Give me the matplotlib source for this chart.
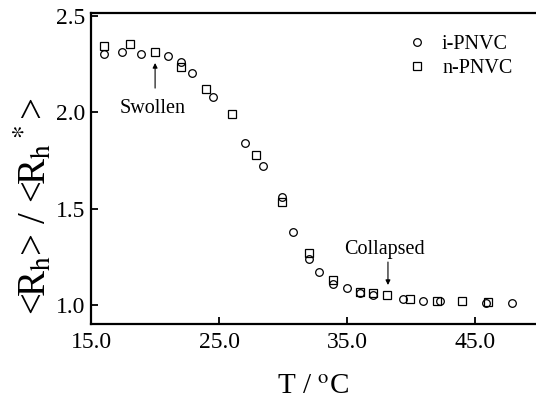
import matplotlib
matplotlib.use('Agg')
import matplotlib.pyplot as plt

plt.rcParams['font.family'] = ['Liberation Serif', 'DejaVu Serif']
plt.rcParams['mathtext.fontset'] = 'stix'

# i-PNVC (circles)
t_i = [16.0, 17.4, 18.9, 21.0, 22.0, 22.9, 24.5, 27.0, 28.4, 29.9, 30.8,
       32.0, 32.8, 33.9, 35.0, 36.0, 37.0, 39.4, 40.9, 42.3, 45.9, 47.9]
r_i = [2.30, 2.31, 2.30, 2.29, 2.26, 2.20, 2.08, 1.84, 1.72, 1.56, 1.38,
       1.24, 1.17, 1.11, 1.09, 1.06, 1.05, 1.03, 1.02, 1.02, 1.01, 1.01]

# n-PNVC (squares)
t_n = [16.0, 18.0, 20.0, 22.0, 24.0, 26.0, 27.9, 29.9, 32.0, 33.9, 36.0,
       37.0, 38.1, 39.9, 42.0, 44.0, 46.0]
r_n = [2.34, 2.35, 2.31, 2.235, 2.12, 1.99, 1.78, 1.535, 1.27, 1.13, 1.07,
       1.06, 1.05, 1.03, 1.02, 1.02, 1.015]

xticks = [15.0, 25.0, 35.0, 45.0]
yticks = [1.0, 1.5, 2.0, 2.5]

fig = plt.figure(figsize=(5.36, 4.0), dpi=100)
ax = fig.add_axes([0.170, 0.19, 0.830, 0.7775])

ax.plot(t_i, r_i, 'o', ms=5.5, mfc='none', mec='black', mew=0.9, label='i-PNVC')
ax.plot(t_n, r_n, 's', ms=5.3, mfc='none', mec='black', mew=0.9, label='n-PNVC')

ax.set_xlim(15.0, 49.77)
ax.set_ylim(0.902, 2.513)
ax.set_xticks(xticks)
ax.set_xticklabels(['%.1f' % v for v in xticks])
ax.set_yticks(yticks)
ax.set_yticklabels(['%.1f' % v for v in yticks])
ax.tick_params(direction='in', length=5, width=1.3, labelsize=17, pad=6)
ax.tick_params(axis='y', pad=4)

for s in ['left', 'bottom', 'top']:
    ax.spines[s].set_linewidth(1.6)
ax.spines['right'].set_visible(False)

ax.set_xlabel(r'T / $^\mathrm{o}$C', fontsize=21, labelpad=15)
ax.set_ylabel(r'<R$_\mathrm{h}$> / <R$_\mathrm{h}$$^*$>', fontsize=28)
ax.yaxis.set_label_coords(-0.082, 0.38)

ax.legend(loc='upper right', bbox_to_anchor=(0.965, 0.955), frameon=False,
          fontsize=14.5, handlelength=1.0, handletextpad=0.75,
          labelspacing=0.25, borderaxespad=0)

arrow = dict(arrowstyle='-|>', color='black', lw=0.8,
             mutation_scale=7, shrinkA=0, shrinkB=0)
ax.annotate('', xy=(20.0, 2.254), xytext=(20.0, 2.124), arrowprops=arrow)
ax.text(19.77, 2.02, 'Swollen', fontsize=14.5, ha='center', va='center')
ax.annotate('', xy=(38.2, 1.104), xytext=(38.2, 1.223), arrowprops=arrow)
ax.text(37.9, 1.29, 'Collapsed', fontsize=14.5, ha='center', va='center')

fig.savefig('out.png', dpi=100)
